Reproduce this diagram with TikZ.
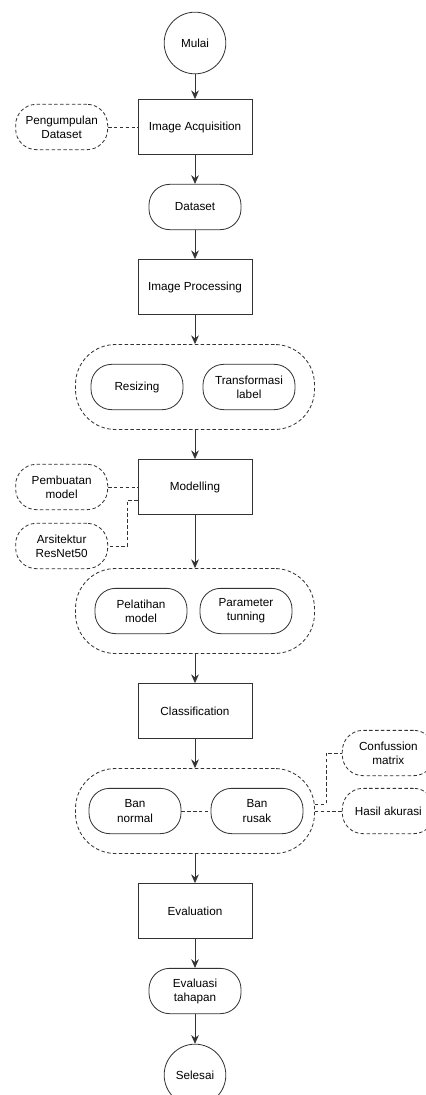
\documentclass[tikz,border=0pt]{standalone}
\usepackage{fontspec}
\setmainfont{Liberation Sans}
\usetikzlibrary{shapes.geometric, arrows.meta}
\tikzstyle{startstop} = [circle, minimum size=1.85cm, text centered, draw=black!80, line width=0.7pt]
\tikzstyle{process} = [rectangle, minimum width=3.42cm, minimum height=1.65cm,
text centered, draw=black!80, line width=0.7pt]
\tikzstyle{data} = [rectangle, rounded corners=0.62cm, minimum width=2.76cm, minimum height=1.36cm,
text centered, align=center, draw=black!80, line width=0.7pt]
\tikzstyle{note} = [data, dash pattern=on 3pt off 2pt]
\tikzstyle{group} = [rectangle, rounded corners=1.2cm, minimum width=7.17cm, minimum height=2.55cm,
draw=black!80, dash pattern=on 3pt off 2pt, line width=0.7pt]
\tikzstyle{arrow} = [line width=0.7pt, draw=black!80, -{Stealth[length=2.6mm, width=2.3mm]}]
\tikzstyle{link} = [line width=0.7pt, draw=black!80, dash pattern=on 3pt off 2pt]

\begin{document}
\begin{tikzpicture}[node distance = 2.4cm]
\useasboundingbox (-5.85,1.29) rectangle (6.9,-31.56);

% ------------------------- nodes -------------------------

% ----- node: mulai
\node(start)[startstop]{Mulai};
% ----- node: image acquisition
\node(acq)[process, below of=start, yshift=-0.12cm]{Image Acquisition};
\node(kumpul)[note, left of=acq, xshift=-1.6cm]{Pengumpulan\\Dataset};
% ----- node: dataset
\node(dataset)[data, below of=acq]{Dataset};
% ----- node: image processing
\node(proc)[process, below of=dataset]{Image Processing};
\node(grp1)[group, below of=proc, yshift=-0.6cm]{};
\node(resize)[data, left of=grp1, xshift=0.66cm]{Resizing};
\node(trans)[data, right of=grp1, xshift=-0.78cm]{Transformasi\\label};
% ----- node: modelling
\node(model)[process, below of=grp1, yshift=-0.6cm]{Modelling};
\node(buat)[note, left of=model, xshift=-1.6cm]{Pembuatan\\model};
\node(arsi)[note, below of=buat, yshift=0.63cm]{Arsitektur\\ResNet50};
\node(grp2)[group, below of=model, yshift=-1.32cm]{};
\node(latih)[data, left of=grp2, xshift=0.78cm]{Pelatihan\\model};
\node(param)[data, right of=grp2, xshift=-0.87cm]{Parameter\\tunning};
% ----- node: classification
\node(klas)[process, below of=grp2, yshift=-0.6cm]{Classification};
\node(grp3)[group, below of=klas, yshift=-0.6cm]{};
\node(normal)[data, left of=grp3, xshift=0.6cm]{Ban\\normal};
\node(rusak)[data, right of=grp3, xshift=-0.54cm]{Ban\\rusak};
\node(akurasi)[note, right of=grp3, xshift=3.4cm]{Hasil akurasi};
\node(conf)[note, above of=akurasi, yshift=-0.66cm]{Confussion\\matrix};
% ----- node: evaluation
\node(eval)[process, below of=grp3, yshift=-0.6cm]{Evaluation};
\node(tahap)[data, below of=eval]{Evaluasi\\tahapan};
% ----- node: selesai
\node(end)[startstop, below of=tahap, yshift=-0.12cm]{Selesai};

% ------------------------- connections -------------------------
\draw[arrow](start)--(acq);
\draw[arrow](acq)--(dataset);
\draw[arrow](dataset)--(proc);
\draw[arrow](proc)--(grp1);
\draw[arrow](grp1)--(model);
\draw[arrow](model)--(grp2);
\draw[arrow](grp2)--(klas);
\draw[arrow](klas)--(grp3);
\draw[arrow](grp3)--(eval);
\draw[arrow](eval)--(tahap);
\draw[arrow](tahap)--(end);
% dashed side links
\draw[link](kumpul)--(acq);
\draw[link](buat)--(model);
\draw[link]([yshift=-0.39cm]model.west)--++(-0.3,0)|-(arsi.east);
\draw[link](normal)--(rusak);
\draw[link](grp3.east)--(akurasi);
\draw[link]([yshift=0.21cm]grp3.east)--++(0.33,0)|-(conf.west);

\end{tikzpicture}
\end{document}
